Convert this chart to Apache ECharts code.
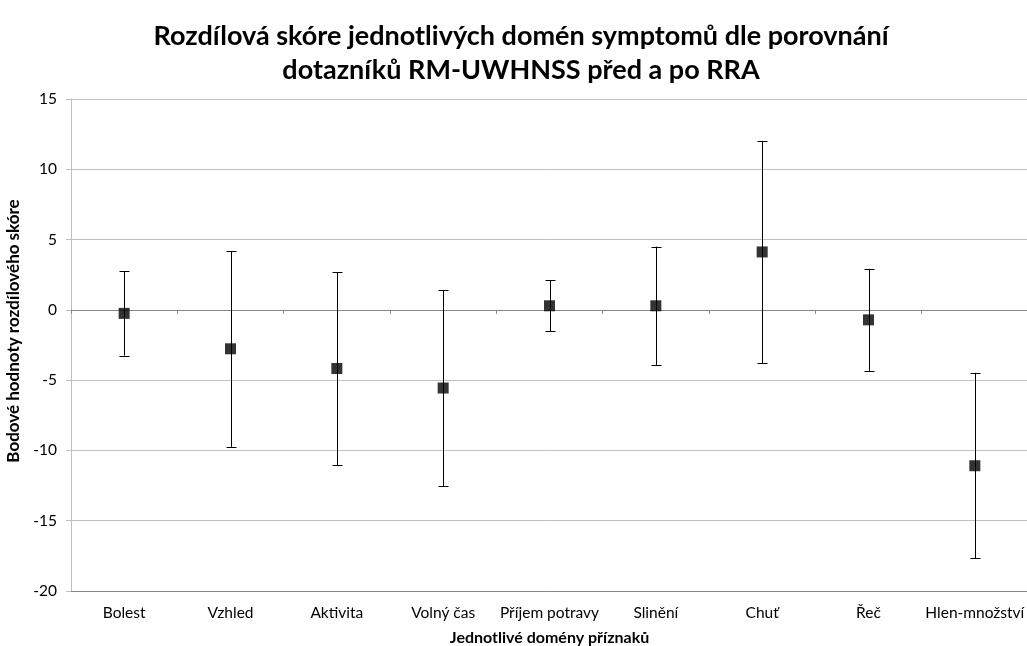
<!DOCTYPE html>
<html><head><meta charset="utf-8">
<script src="https://cdn.jsdelivr.net/npm/echarts@6/dist/echarts.min.js"></script>
<style>html,body{margin:0;padding:0;background:#fff}#c{width:1027px;height:646px}</style>
</head><body><div id="c"></div>
<script>
const categories = ['Bolest','Vzhled','Aktivita','Volný čas','Příjem potravy','Slinění','Chuť','Řeč','Hlen-množství'];
const means = [-0.25, -2.77, -4.17, -5.56, 0.29, 0.29, 4.12, -0.71, -11.09];
const upper = [2.73, 4.17, 2.68, 1.42, 2.11, 4.5, 12.01, 2.92, -4.48];
const lower = [-3.26, -9.74, -11.04, -12.56, -1.52, -3.91, -3.79, -4.34, -17.67];
const yTicks = [-20, -15, -10, -5, 0, 5, 10, 15];

const font = 'Lato, "Open Sans", sans-serif';
const chart = echarts.init(document.getElementById('c'), null, {renderer: 'canvas'});
chart.setOption({
  animation: false,
  backgroundColor: '#fff',
  title: {
    text: 'Rozdílová skóre jednotlivých domén symptomů dle porovnání\ndotazníků RM-UWHNSS před a po RRA',
    left: 516, top: 14, textAlign: 'center',
    textStyle: {fontFamily: font, fontWeight: 'bold', fontSize: 27, lineHeight: 34, color: '#000'}
  },
  grid: {left: 71, right: -1, top: 99, bottom: 55, containLabel: false, outerBoundsMode: 'none'},
  xAxis: [{
    type: 'category', data: categories, position: 'bottom',
    axisLine: {onZero: false, lineStyle: {color: '#868686', width: 1}},
    axisTick: {show: false},
    axisLabel: {fontFamily: font, fontSize: 15.5, color: '#000', margin: 14, interval: 0},
    name: 'Jednotlivé domény příznaků', nameLocation: 'middle', nameGap: 39,
    nameTextStyle: {fontFamily: font, fontWeight: 'bold', fontSize: 16, color: '#000'}
  }, {
    type: 'category', data: categories, position: 'bottom',
    axisLine: {onZero: true, lineStyle: {color: '#868686', width: 1}},
    axisTick: {show: true, length: 4, inside: false, lineStyle: {color: '#868686'}},
    axisLabel: {show: false}
  }],
  yAxis: {
    type: 'value', min: -20, max: 15, interval: 5,
    axisLine: {show: true, lineStyle: {color: '#bfbfbf'}},
    axisTick: {show: true, length: 5, lineStyle: {color: '#bfbfbf'}},
    axisLabel: {fontFamily: font, fontSize: 15.5, color: '#000', margin: 14,
      formatter: v => yTicks.includes(v) ? String(v) : ''},
    splitLine: {lineStyle: {color: '#bfbfbf', width: 1}},
    name: 'Bodové hodnoty rozdílového skóre', nameLocation: 'middle', nameGap: 46, nameRotate: 90,
    nameTextStyle: {fontFamily: font, fontWeight: 'bold', fontSize: 17, color: '#000', padding: [0, 0, 0, 28]}
  },
  series: [{
    type: 'custom', xAxisIndex: 0,
    data: categories.map((c, i) => [i, lower[i], upper[i]]),
    renderItem: function (params, api) {
      const lo = api.coord([api.value(0), api.value(1)]);
      const hi = api.coord([api.value(0), api.value(2)]);
      const x = Math.round(lo[0]) + 0.5, hw = 5;
      const st = {stroke: '#000', lineWidth: 1};
      return {type: 'group', children: [
        {type: 'line', shape: {x1: x, y1: hi[1], x2: x, y2: lo[1]}, style: st},
        {type: 'line', shape: {x1: x - hw, y1: Math.round(hi[1]) + 0.5, x2: x + hw, y2: Math.round(hi[1]) + 0.5}, style: st},
        {type: 'line', shape: {x1: x - hw, y1: Math.round(lo[1]) + 0.5, x2: x + hw, y2: Math.round(lo[1]) + 0.5}, style: st}
      ]};
    },
    z: 2
  }, {
    type: 'scatter', xAxisIndex: 0,
    data: means.map((v, i) => [i, v]),
    symbol: 'rect', symbolSize: 11,
    itemStyle: {color: '#000'}, z: 3
  }]
});
</script></body></html>
